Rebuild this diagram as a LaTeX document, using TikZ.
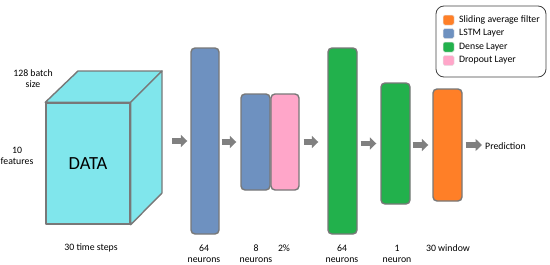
\documentclass[tikz,border=0pt]{standalone}
\usepackage{fontspec}
\setmainfont{Carlito}
\usetikzlibrary{arrows.meta,calc}
\definecolor{cubecyan}{RGB}{128,230,236}
\definecolor{lstmblue}{RGB}{110,145,192}
\definecolor{droppink}{RGB}{255,166,201}
\definecolor{densegreen}{RGB}{34,177,76}
\definecolor{filterorange}{RGB}{255,127,39}
\definecolor{edgegray}{RGB}{120,120,120}
\definecolor{arrowgray}{RGB}{128,128,128}
\tikzset{
  layer/.style={draw=edgegray, line width=1.4pt, rounded corners=4pt, minimum width=#1, inner sep=0pt},
  layer/.default=28pt,
  blk/.style={arrowgray, line width=5.5pt, -{Triangle[length=6.5pt,width=12pt]}},
  lbl/.style={font=\fontsize{9.8}{11}\selectfont, align=center, inner sep=0pt},
  swatch/.style={draw=white!80!gray, line width=0.5pt, rounded corners=1.5pt, minimum width=11pt, minimum height=10pt, inner sep=0pt},
  face/.style={draw=edgegray, line width=1.4pt, line join=round, fill=cubecyan}
}
\begin{document}
\begin{tikzpicture}[x=1pt,y=-1pt]
\useasboundingbox (0,0) rectangle (550,265);
% cube
\node[face, minimum width=84pt, minimum height=121pt, inner sep=0pt,
      font=\fontsize{18.5}{20}\selectfont] (front) at (88,163.5) {DATA};
\coordinate (tbl) at (78,71);
\coordinate (tbr) at (162,71);
\coordinate (rbb) at (162,193);
\draw[face] (front.north west) -- (tbl) -- (tbr) -- (front.north east) -- cycle;
\draw[face] (front.north east) -- (tbr) -- (rbb) -- (front.south east) -- cycle;
\node[lbl] (batch) at (33,79) {128 batch\\size};
\node[lbl] (feat) at (17,156) {10\\features};
\node[lbl] (steps) at (91,248) {30 time steps};
% layers
\node[layer, fill=lstmblue, minimum height=186pt] (l1) at (205,141) {};
\node[layer, fill=lstmblue, minimum height=96pt, minimum width=29pt] (l2) at (255.5,142) {};
\node[layer, fill=droppink, minimum height=96pt] (dr) at (285,142) {};
\node[layer, fill=densegreen, minimum height=186pt, minimum width=29pt] (d1) at (342.5,141) {};
\node[layer, fill=densegreen, minimum height=121pt, minimum width=29pt] (d2) at (395.5,143.5) {};
\node[layer, fill=filterorange, minimum height=112pt, minimum width=29pt] (fo) at (447.5,145) {};
% labels under layers
\node[lbl] (t1) at (204,253.5) {64\\neurons};
\node[lbl] (t2) at (256,253.5) {8\\neurons};
\node[lbl] (t3) at (284,248) {2\%};
\node[lbl] (t4) at (342,253.5) {64\\neurons};
\node[lbl] (t5) at (397,253.5) {1\\neuron};
\node[lbl] (t6) at (448,248) {30 window};
\node[lbl, anchor=west] (pred) at (485,146) {Prediction};
% arrows
\draw[blk] ([xshift=10pt]rbb |- l1.west) -- ([xshift=-3pt]l1.west);
\draw[blk] ([xshift=2pt]l1.east |- l2.west) -- ([xshift=-4pt]l2.west);
\draw[blk] ([xshift=4pt]dr.east) -- ([xshift=-9pt]dr.east -| d1.west);
\draw[blk] ([xshift=3pt]d1.east |- d2.west) -- ([xshift=-4pt]d2.west);
\draw[blk] ([xshift=2pt]d2.east |- fo.west) -- ([xshift=-4pt]fo.west);
\draw[blk] ([xshift=3pt]fo.east) -- ([xshift=-3pt]fo.east -| pred.west);
% legend
\node[draw=black!75, line width=0.8pt, rounded corners=8pt, minimum width=110pt, minimum height=71pt, inner sep=0pt] (legend) at (491,41.5) {};
\node[swatch, fill=filterorange] (s1) at (448.5,20) {};
\node[swatch, fill=lstmblue] (s2) at (448.5,33.5) {};
\node[swatch, fill=densegreen] (s3) at (448.5,47) {};
\node[swatch, fill=droppink] (s4) at (448.5,60.5) {};
\node[lbl, anchor=west] (k1) at (459,20) {Sliding average filter};
\node[lbl, anchor=west] (k2) at (459,33.5) {LSTM Layer};
\node[lbl, anchor=west] (k3) at (459,47) {Dense Layer};
\node[lbl, anchor=west] (k4) at (459,60.5) {Dropout Layer};
\end{tikzpicture}
\end{document}
